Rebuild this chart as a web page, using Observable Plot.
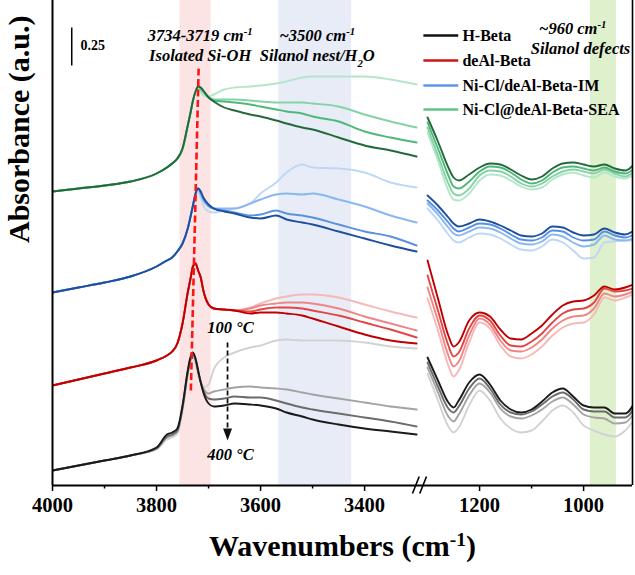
<!DOCTYPE html>
<html>
<head>
<meta charset="utf-8">
<script src="https://cdn.jsdelivr.net/npm/d3@7"></script>
<script src="https://cdn.jsdelivr.net/npm/@observablehq/plot@0.6"></script>
<style>
  html, body { margin: 0; padding: 0; background: #fff; }
  #chart { width: 635px; height: 575px; }
</style>
</head>
<body>
<div id="chart"></div>
<script>
// ---------- DATA ----------
// wavenumber grids (cm-1) of the two panels
const wnLeft = [4000,3950,3900,3850,3800,3780,3770,3760,3750,3740,3735,3730,3725,3720,3715,3710,3700,3690,3670,3650,3620,3600,3570,3550,3520,3500,3450,3400,3350,3300];
const wnRight = [1300,1280,1260,1250,1240,1220,1200,1180,1160,1140,1120,1100,1080,1060,1040,1020,1000,980,960,940,920,900];

const temperatures = ["100 °C", "200 °C", "300 °C", "400 °C"];
const samples = ["H-Beta", "deAl-Beta", "Ni-Cl/deAl-Beta-IM", "Ni-Cl@deAl-Beta-SEA"];

// absorbance (offset, arbitrary units; 38 units = 0.25 a.u.) — rows: 100, 200, 300, 400 °C
const hBetaLeft = [
  [15,20,25,30,36,46,48,52,75,110,123,128,122,110,103,98,101,116,128,133,138,140,145,146,145,145,145,143,139,137],
  [15,20,25,30,37,48,50,54,77,112,125,130,125,114,104,97,92,94,96,98,99,98,97,96,93,91,87,83,79,76],
  [15,20,25,30,37,49,51,55,78,113,126,131,126,114,103,95,87,86,87,89,88,88,85,82,78,76,72,68,64,59],
  [15,20,25,30,38,51,53,57,80,115,128,133,127,115,103,93,82,79,80,82,81,80,77,73,69,66,61,57,54,51]
];
const hBetaRight = [
  [112,85,59,53,58,80,95,85,67,57,53,55,64,75,80,73,60,55,51,49,55,68],
  [118,93,69,64,71,90,102,93,77,69,67,70,76,84,88,81,71,68,67,62,63,75],
  [123,99,77,73,79,97,107,97,81,73,71,74,81,89,93,86,76,74,74,68,68,80],
  [128,105,83,78,85,103,111,101,85,76,73,76,84,93,97,89,80,78,78,72,72,85]
];
const deAlLeft = [
  [100,106,112,118,125,130,134,142,162,193,206,219,222,215,208,195,181,177,176,175,178,182,187,189,191,191,188,181,174,168],
  [100,106,112,118,125,130,134,142,162,193,206,219,222,215,208,195,181,177,176,175,177,180,182,183,183,182,177,169,162,155],
  [100,106,112,118,125,130,134,142,162,193,206,219,222,215,208,195,181,177,176,175,174,176,178,178,177,175,170,163,156,148],
  [100,106,112,118,125,130,134,142,162,193,206,219,222,215,208,195,181,177,176,175,172,173,173,172,170,167,159,151,145,142]
];
const deAlRight = [
  [187,155,120,109,115,143,163,157,140,129,127,131,139,150,158,162,163,171,188,185,188,192],
  [198,165,130,119,124,150,167,161,145,135,134,138,146,157,165,169,170,177,192,189,191,195],
  [210,175,140,129,133,157,170,165,150,140,139,144,152,163,172,176,177,183,197,194,195,198],
  [225,187,150,139,143,165,173,169,156,147,146,152,160,171,180,184,185,190,199,196,198,202]
];
const imLeft = [
  [193,198,203,209,219,225,228,234,242,257,268,280,291,293,287,280,274,273,275,277,282,292,303,313,321,318,317,313,303,298],
  [193,198,203,209,219,225,228,234,242,257,268,280,292,296,291,285,279,277,277,277,282,286,291,292,291,292,286,279,270,263],
  [193,198,203,209,219,225,228,234,242,257,268,280,292,297,293,287,280,277,275,273,270,271,275,272,270,268,261,254,249,240],
  [193,198,203,209,219,225,228,234,242,257,268,280,292,297,294,288,281,277,274,272,268,267,270,266,263,261,254,247,240,234]
];
const imRight = [
  [277,265,251,245,243,248,252,251,247,241,236,235,239,246,243,235,227,228,243,244,245,245],
  [282,271,258,252,250,254,258,257,253,247,242,241,244,251,249,243,239,241,250,246,245,248],
  [285,275,263,257,254,258,262,261,257,251,246,245,248,255,254,248,245,246,254,250,248,252],
  [290,280,268,262,259,262,266,264,260,255,250,249,252,259,258,253,250,251,257,253,251,256]
];
const seaLeft = [
  [294,297,300,304,312,318,322,326,335,358,371,384,393,397,393,390,389,391,396,398,399,400,402,404,408,409,409,409,406,401],
  [294,297,300,304,312,318,322,327,337,360,372,385,394,399,396,393,389,386,386,386,385,384,383,383,383,382,379,371,364,358],
  [294,297,300,304,312,318,322,327,337,360,372,385,394,399,397,394,388,385,384,383,381,379,376,374,372,369,364,354,348,343],
  [294,297,300,304,312,318,322,327,337,360,372,385,394,399,398,395,388,384,378,375,371,369,365,362,358,356,348,340,335,329]
];
const seaRight = [
  [353,325,295,286,285,292,305,311,310,305,299,296,298,306,311,313,310,308,313,309,307,312],
  [358,330,302,292,290,297,310,315,314,309,302,299,302,309,314,316,314,312,316,312,309,315],
  [363,337,310,299,297,304,314,319,318,313,306,302,305,313,318,319,317,315,318,314,312,318],
  [368,344,318,308,305,311,318,322,321,316,310,306,309,317,322,323,321,319,321,317,315,323]
];

// tick labels
const majorTicks = [4000, 3800, 3600, 3400, 1200, 1000];
const minorTicks = [3900, 3700, 3500, 1100];

// colours (100 -> 400 °C) and legend colours
const blackShades = ["#d2d2d2", "#a3a3a3", "#6b6b6b", "#1a1a1a"];
const redShades   = ["#f7b8b8", "#f08585", "#e24545", "#c00000"];
const blueShades  = ["#bed7f7", "#8ab7f0", "#5a90e2", "#1d4f9e"];
const greenShades = ["#b4e6c9", "#84d3a5", "#50b77b", "#23693b"];
const legendColors = ["#111111", "#cc1515", "#5e95e8", "#60c48b"];

// ---------- BROKEN X AXIS ----------
const GAP = 21;                               // width of the axis break in cm-1
const pos = w => w >= 2000 ? 4000 - w : 700 + GAP + (1300 - w);

const groups = [
  {left: hBetaLeft, right: hBetaRight, colors: blackShades},
  {left: deAlLeft,  right: deAlRight,  colors: redShades},
  {left: imLeft,    right: imRight,    colors: blueShades},
  {left: seaLeft,   right: seaRight,   colors: greenShades}
];

const serif = "'Liberation Serif', 'Times New Roman', serif";
const marks = [];

// shaded bands
const bands = [
  {w1: 3755, w2: 3695, fill: "#fde4e4"},
  {w1: 3565, w2: 3425, fill: "#e7ecf6"},
  {w1: 987,  w2: 937,  fill: "#dff0cd"}
];
marks.push(Plot.rect(bands, {x1: d => pos(d.w1), x2: d => pos(d.w2), y1: 0, y2: 485, fill: "fill"}));

// spectra
for (const g of groups) {
  for (let t = 0; t < 4; t++) {
    const rowsL = wnLeft.map((w, i) => ({x: pos(w), y: g.left[t][i]}));
    const rowsR = wnRight.map((w, i) => ({x: pos(w), y: g.right[t][i]}));
    for (const rows of [rowsL, rowsR]) {
      marks.push(Plot.line(rows, {x: "x", y: "y", stroke: g.colors[t], strokeWidth: 1.9, curve: "monotone-x", clip: true}));
    }
  }
}

// red dashed guide (3734 -> 3719 cm-1)
marks.push(Plot.link([{w1: 3734, h1: 95, w2: 3719, h2: 418}], {
  x1: d => pos(d.w1), y1: "h1", x2: d => pos(d.w2), y2: "h2",
  stroke: "#ff1414", strokeWidth: 2.6, strokeDasharray: "7,3.5"
}));

// frame
marks.push(Plot.ruleX([0], {stroke: "#000", strokeWidth: 2}));
marks.push(Plot.ruleX([1115], {stroke: "#000", strokeWidth: 1.6}));
marks.push(Plot.ruleY([0], {stroke: "#000", strokeWidth: 2}));

// axis break marks
marks.push(Plot.link([{x1: 692, y1: -8, x2: 705, y2: 9}, {x1: 706, y1: -8, x2: 719, y2: 9}], {
  x1: "x1", y1: "y1", x2: "x2", y2: "y2", stroke: "#000", strokeWidth: 1.6
}));

// ticks
marks.push(Plot.axisX({ticks: majorTicks.map(pos), tickFormat: d => String(majorTicks[majorTicks.map(pos).indexOf(d)]),
  tickSize: 6, tickPadding: 6, strokeWidth: 1.5, fontSize: 20.5, fontWeight: "bold", fontFamily: serif, label: null}));
marks.push(Plot.axisX({ticks: minorTicks.map(pos), tickFormat: () => "", tickSize: 3.5, strokeWidth: 1.5, label: null}));

// axis titles
marks.push(Plot.text(["Wavenumbers (cm^{-1})"], {text: d => d, frameAnchor: "bottom", dy: 70, fontSize: 30, fontWeight: "bold", fontFamily: serif}));
marks.push(Plot.text(["Absorbance (a.u.)"], {text: d => d, frameAnchor: "left", dx: -33, rotate: -90, fontSize: 30, fontWeight: "bold", fontFamily: serif}));

// scale bar
marks.push(Plot.link([{w: 3963, h1: 420, h2: 458}], {x1: d => pos(d.w), x2: d => pos(d.w), y1: "h1", y2: "h2", stroke: "#000", strokeWidth: 1.5}));
marks.push(Plot.text([{u: 54, h: 440, t: "0.25"}], {x: "u", y: "h", text: "t", textAnchor: "start", fontSize: 14, fontWeight: "bold", fontFamily: serif}));

// annotations
const notes = [
  {u: 284, h: 450, t: "3734-3719 cm^{-1}"},
  {u: 284, h: 430, t: "Isolated Si-OH"},
  {u: 509, h: 450, t: "~3500 cm^{-1}"},
  {u: 509, h: 430, t: "Silanol nest/H_{2}O"},
  {u: 1000, h: 457, t: "~960 cm^{-1}"},
  {u: 1015, h: 437, t: "Silanol defects"},
  {u: 342, h: 158, t: "100 °C"},
  {u: 342, h: 31, t: "400 °C"}
];
marks.push(Plot.text(notes, {x: "u", y: "h", text: "t", fontSize: 16.5, fontWeight: "bold", fontStyle: "italic", fontFamily: serif}));

// temperature arrow
marks.push(Plot.link([{u: 336.5, h1: 143, h2: 57}], {x1: "u", x2: "u", y1: "h1", y2: "h2", stroke: "#111", strokeWidth: 1.8, strokeDasharray: "5,3"}));
const downHead = {draw(ctx) { ctx.moveTo(-4.5, -6); ctx.lineTo(4.5, -6); ctx.lineTo(0, 6); ctx.closePath(); }};
marks.push(Plot.dot([{u: 336.5, h: 51}], {x: "u", y: "h", symbol: downHead, fill: "#111", stroke: "none", r: 5}));

// legend
const legendRows = samples.map((s, i) => ({s, c: legendColors[i], h: [450, 425, 400, 376][i]}));
marks.push(Plot.link(legendRows, {x1: 713, x2: 780, y1: "h", y2: "h", stroke: "c", strokeWidth: 2.4}));
marks.push(Plot.text(legendRows, {x: 788, y: "h", text: "s", textAnchor: "start", fontSize: 16, fontWeight: "bold", fontFamily: serif}));

const plot = Plot.plot({
  width: 635, height: 575,
  marginLeft: 52, marginRight: 3, marginTop: 0, marginBottom: 90,
  x: {domain: [0, 1115], axis: null},
  y: {domain: [0, 485], axis: null},
  color: {type: "identity"},
  style: {fontFamily: serif, fontWeight: "bold", color: "#000", background: "#fff", overflow: "visible"},
  marks
});
document.getElementById("chart").append(plot);

// superscripts / subscripts written as ^{..} and _{..}
plot.querySelectorAll("text").forEach(t => {
  const s = t.textContent;
  if (!/[\^_]\{/.test(s)) return;
  const parts = s.split(/([\^_]\{[^}]*\})/);
  t.textContent = "";
  for (const p of parts) {
    if (!p) continue;
    const ts = document.createElementNS("http://www.w3.org/2000/svg", "tspan");
    if (p.startsWith("^{") || p.startsWith("_{")) {
      ts.textContent = p.slice(2, -1);
      ts.setAttribute("baseline-shift", p[0] === "^" ? "super" : "sub");
      ts.setAttribute("font-size", "65%");
    } else ts.textContent = p;
    t.appendChild(ts);
  }
});
</script>
</body>
</html>
